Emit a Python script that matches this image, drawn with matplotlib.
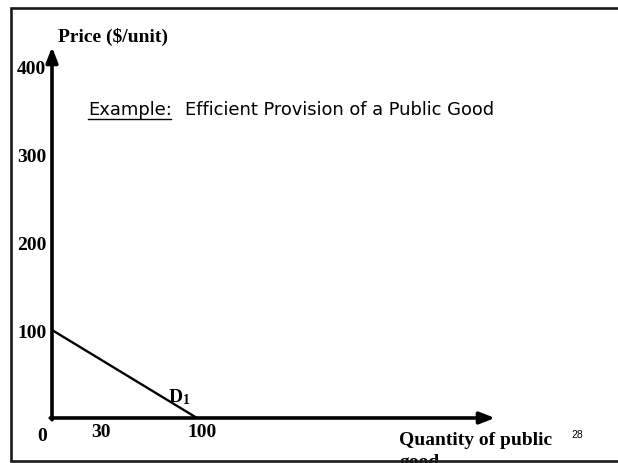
import matplotlib
matplotlib.use("Agg")
import matplotlib.pyplot as plt
from matplotlib.lines import Line2D

# Demand curve D1 for the public good
demand_q = [0, 100]
demand_p = [100, 0]

# Axis labels
price_ticks = [100, 200, 300, 400]
price_labels = ["100", "200", "300", "400"]
qty_ticks = [30, 100]
qty_labels = ["30", "100"]

W, H, DPI = 618, 464, 100
fig = plt.figure(figsize=(W / DPI, H / DPI), dpi=DPI)
fig.patch.set_facecolor("white")

plt.rcParams["mathtext.fontset"] = "custom"
plt.rcParams["mathtext.bf"] = "Liberation Serif:bold"
plt.rcParams["mathtext.rm"] = "Liberation Serif"

# Pixel geometry of the diagram
ox, oy = 52, 419          # origin in pixels (from top-left)
sx, sy = 1.45, 0.88       # pixels per unit on each axis

ax = fig.add_axes([0, 0, 1, 1])
ax.set_xlim(-ox / sx, (W - ox) / sx)
ax.set_ylim(-(H - oy) / sy, oy / sy)
ax.axis("off")

serif = "Liberation Serif"


def fy(py):
    """Figure fraction from a pixel row counted from the top."""
    return 1 - py / H


x_end = (495 - ox) / sx
y_end = (oy - 48) / sy

arrow = dict(arrowstyle="-|>,head_length=0.9,head_width=0.35", lw=2.6,
             color="black", shrinkA=0, shrinkB=0, mutation_scale=10)
ax.annotate("", xy=(x_end, 0), xytext=(-1.2, 0), arrowprops=arrow)
ax.annotate("", xy=(0, y_end), xytext=(0, -2), arrowprops=arrow)

# Demand line
ax.plot(demand_q, demand_p, color="black", lw=1.7, solid_capstyle="butt")
ax.text(88, 25, r"$\mathbf{D_1}$", fontsize=14, ha="center", va="center")

# Price labels
for v, s in zip(price_ticks, price_labels):
    ax.annotate(s, xy=(0, v), xytext=(-4, -2), textcoords="offset points",
                ha="right", va="center", fontsize=14, fontweight="bold",
                family=serif)

# Quantity labels
for v, s in zip(qty_ticks, qty_labels):
    ax.annotate(s, xy=(v, 0), xytext=(4, -9.5), textcoords="offset points",
                ha="center", va="center", fontsize=14, fontweight="bold",
                family=serif)
ax.annotate("0", xy=(0, 0), xytext=(-7, -12.5), textcoords="offset points",
            ha="center", va="center", fontsize=14, fontweight="bold",
            family=serif)

# Axis titles
fig.text(58 / W, fy(37), "Price ($/unit)", ha="left", va="center",
         fontsize=14, fontweight="bold", family=serif)
fig.text(399 / W, fy(445), "Quantity of public", ha="left",
         va="baseline", fontsize=14, fontweight="bold", family=serif,
         zorder=1)
fig.text(399 / W, fy(467.5), "good", ha="left",
         va="baseline", fontsize=14, fontweight="bold", family=serif,
         zorder=1)

# Heading
fig.text(88 / W, fy(110), "Example:", ha="left", va="center",
         fontsize=12.9, family="DejaVu Sans")
fig.text(185 / W, fy(110), "Efficient Provision of a Public Good",
         ha="left", va="center", fontsize=12.9, family="DejaVu Sans")
fig.add_artist(Line2D([88 / W, 171 / W], [fy(120), fy(120)],
                      transform=fig.transFigure, color="black", lw=1))

# Slide number
fig.text(577 / W, fy(435), "28", ha="center", va="center",
         fontsize=7.5, family="Liberation Sans")

# Slide frame, open on the right: one polyline top -> left -> bottom
fig.add_artist(Line2D([618 / W, 11 / W, 11 / W, 618 / W],
                      [fy(9), fy(9), fy(462), fy(462)],
                      transform=fig.transFigure, color="#1a1a1a", lw=1.9,
                      zorder=10, solid_joinstyle="miter",
                      solid_capstyle="butt"))

fig.savefig("out.png", dpi=DPI, facecolor="white")
